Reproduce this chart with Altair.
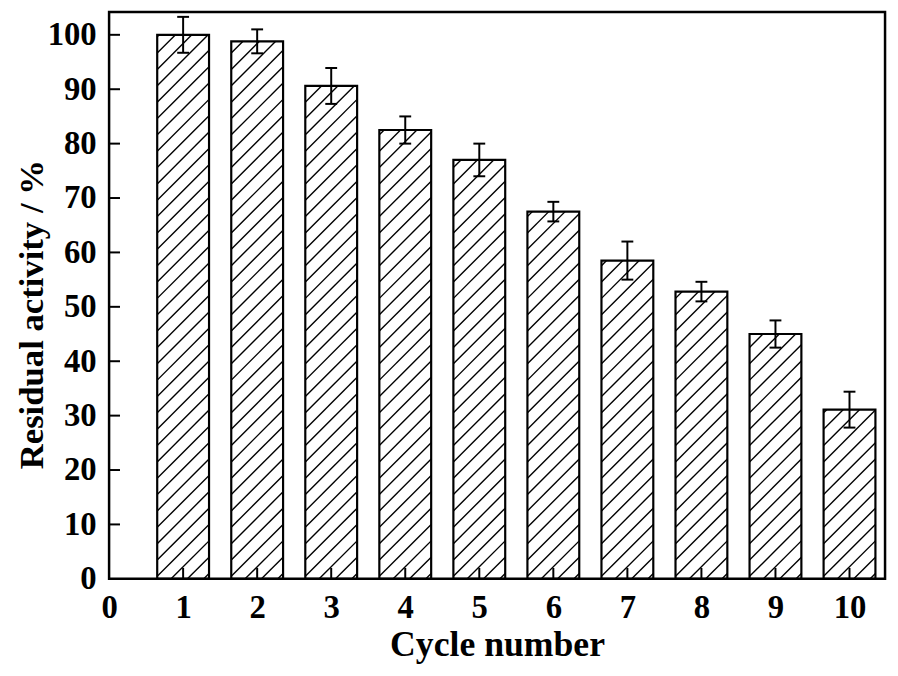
import altair as alt
import pandas as pd

# ---- data ----
cycles = [1, 2, 3, 4, 5, 6, 7, 8, 9, 10]
activity = [100.0, 98.8, 90.6, 82.5, 77.0, 67.5, 58.5, 52.8, 45.0, 31.1]
error = [3.3, 2.2, 3.3, 2.5, 3.0, 1.8, 3.5, 1.8, 2.5, 3.3]
x_ticks = [0, 1, 2, 3, 4, 5, 6, 7, 8, 9, 10]
y_ticks = [0, 10, 20, 30, 40, 50, 60, 70, 80, 90, 100]

# ---- layout constants ----
W, H = 783, 572
XMAX, YMAX = 10.48, 104.2
ppx, ppy = W / XMAX, H / YMAX
BAR_HALF = 0.35
CAP_HALF = 0.08
HATCH_GAP = 16.5   # px, vertical spacing of hatch lines
HATCH_PHASE = -14  # px
FONT = "Liberation Serif"

bars = pd.DataFrame({"cycle": cycles, "activity": activity, "err": error})
bars["x0"] = bars["cycle"] - BAR_HALF
bars["x1"] = bars["cycle"] + BAR_HALF
bars["lo"] = bars["activity"] - bars["err"]
bars["hi"] = bars["activity"] + bars["err"]
bars["c0"] = bars["cycle"] - CAP_HALF
bars["c1"] = bars["cycle"] + CAP_HALF

# hatch segments ("/" at 45 deg in pixel space), clipped to each bar
rows = []
for c, v in zip(cycles, activity):
    w = 2 * BAR_HALF * ppx
    h = v * ppy
    k = HATCH_PHASE - HATCH_GAP * 4
    while k < h:
        u0 = max(0.0, -k)
        u1 = min(w, h - k)
        if u1 - u0 > 0.5:
            rows.append({
                "x": c - BAR_HALF + u0 / ppx, "y": (u0 + k) / ppy,
                "x2": c - BAR_HALF + u1 / ppx, "y2": (u1 + k) / ppy,
            })
        k += HATCH_GAP
hatch = pd.DataFrame(rows)

xscale = alt.Scale(domain=[0, XMAX], nice=False, zero=False)
yscale = alt.Scale(domain=[0, YMAX], nice=False)

xaxis = alt.Axis(values=x_ticks, format="d", ticks=False, tickSize=0, domain=False, grid=False,
                 labelFont=FONT, labelFontSize=33, labelFontWeight="bold", labelColor="black",
                 labelPadding=13, labelFlush=False, labelOverlap=False,
                 title="Cycle number", titleFont=FONT, titleFontSize=36, titleFontWeight="bold",
                 titleColor="black", titleY=77, titleBaseline="alphabetic")
yaxis = alt.Axis(values=y_ticks, format="d", ticks=False, tickSize=0, domain=False, grid=False,
                 labelFont=FONT, labelFontSize=33, labelFontWeight="bold", labelColor="black",
                 labelPadding=13, labelFlush=False, labelOverlap=False,
                 title="Residual activity / %", titleFont=FONT, titleFontSize=35,
                 titleFontWeight="bold", titleColor="black", titleAngle=-90,
                 titleX=-67, titleY=305, titleAlign="center", titleBaseline="alphabetic")

base = alt.Chart(bars)

bar_fill = base.mark_bar(color="white", stroke=None).encode(
    x=alt.X("x0:Q", scale=xscale, axis=xaxis),
    x2="x1:Q",
    y=alt.Y("activity:Q", scale=yscale, axis=yaxis),
    y2=alt.datum(0),
)

hatch_lines = alt.Chart(hatch).mark_rule(color="black", strokeWidth=1.4).encode(
    x=alt.X("x:Q", scale=xscale), x2="x2:Q",
    y=alt.Y("y:Q", scale=yscale), y2="y2:Q",
)

bar_outline = base.mark_bar(fill=None, fillOpacity=0, stroke="black", strokeWidth=2.2).encode(
    x=alt.X("x0:Q", scale=xscale), x2="x1:Q",
    y=alt.Y("activity:Q", scale=yscale), y2=alt.datum(0),
)

err_v = base.mark_rule(color="black", strokeWidth=2).encode(
    x=alt.X("cycle:Q", scale=xscale),
    y=alt.Y("lo:Q", scale=yscale), y2="hi:Q",
)
cap_hi = base.mark_rule(color="black", strokeWidth=2).encode(
    x=alt.X("c0:Q", scale=xscale), x2="c1:Q", y=alt.Y("hi:Q", scale=yscale),
)
cap_lo = base.mark_rule(color="black", strokeWidth=2).encode(
    x=alt.X("c0:Q", scale=xscale), x2="c1:Q", y=alt.Y("lo:Q", scale=yscale),
)

ytick_df = pd.DataFrame({"v": y_ticks[1:]})
xtick_df = pd.DataFrame({"v": x_ticks[1:]})
yticks = alt.Chart(ytick_df).mark_rule(color="black", strokeWidth=2).encode(
    y=alt.Y("v:Q", scale=yscale), x=alt.value(0), x2=alt.value(11),
)
xticks = alt.Chart(xtick_df).mark_rule(color="black", strokeWidth=2).encode(
    x=alt.X("v:Q", scale=xscale), y=alt.value(H), y2=alt.value(H - 11),
)

frame = alt.Chart(pd.DataFrame({"k": [0]})).mark_rect(
    fill=None, fillOpacity=0, stroke="black", strokeWidth=2.5
).encode(x=alt.value(0), x2=alt.value(W), y=alt.value(0), y2=alt.value(H))

chart = alt.layer(bar_fill, hatch_lines, bar_outline, err_v, cap_hi, cap_lo, yticks, xticks, frame).properties(
    width=W, height=H,
    autosize=alt.AutoSizeParams(type="none"),
    padding={"left": 102, "top": 1, "right": 5, "bottom": 90},
).configure_view(stroke=None).configure(background="white")

chart.save("out.html", embed_options={"renderer": "svg", "actions": False})
